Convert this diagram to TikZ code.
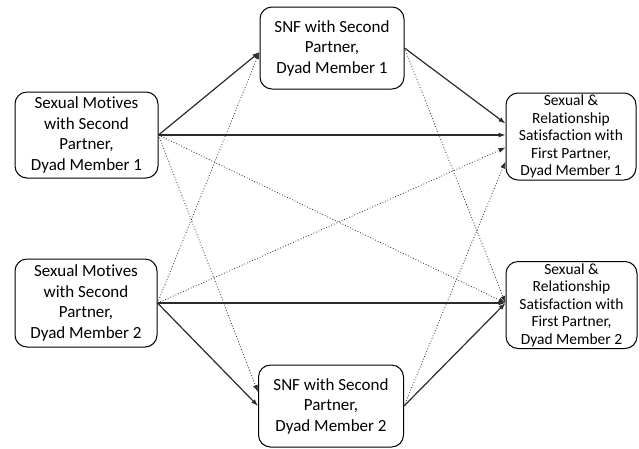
\documentclass[tikz,border=0pt]{standalone}
\usepackage{fontspec}
\setmainfont[Ligatures=NoCommon]{Carlito}
\usetikzlibrary{arrows.meta,positioning,calc}
\definecolor{linegray}{HTML}{2B2B2B}

\tikzset{
  varbox/.style={draw=black, line width=1pt, rounded corners=12pt, fill=white,
    align=center, inner sep=0pt, font=\fontsize{17}{20.5}\selectfont},
  outbox/.style={varbox, font=\fontsize{15.5}{17.5}\selectfont},
  direct/.style={draw=linegray, line width=1.2pt, -{Latex[length=7pt,width=5pt]}},
  cross/.style={draw=linegray, line width=0.8pt, dotted, -{Latex[length=7pt,width=5pt]}}
}

\begin{document}
\begin{tikzpicture}[x=1pt,y=-1pt]
  \useasboundingbox (0,0) rectangle (639,448);

  % predictors
  \node[varbox, minimum width=143pt, minimum height=86pt] (mot1) at (86.5,135)
    {Sexual Motives\\with Second\\Partner,\\Dyad Member 1};
  \node[varbox, minimum width=142pt, minimum height=88pt] (mot2) at (86,303)
    {Sexual Motives\\with Second\\Partner,\\Dyad Member 2};

  % mediators
  \node[varbox, minimum width=144pt, minimum height=82pt] (snf1) at (332,48)
    {SNF with Second\\Partner,\\Dyad Member 1};
  \node[varbox, minimum width=145pt, minimum height=82pt] (snf2) at (331,406)
    {SNF with Second\\Partner,\\Dyad Member 2};

  % outcomes
  \node[outbox, minimum width=130pt, minimum height=87pt] (sat1) at (571,136.5)
    {Sexual \&\\Relationship\\Satisfaction with\\First Partner,\\Dyad Member 1};
  \node[outbox, minimum width=131pt, minimum height=87pt] (sat2) at (571.5,305)
    {Sexual \&\\Relationship\\Satisfaction with\\First Partner,\\Dyad Member 2};

  % entry points
  \coordinate (sat1a) at ([yshift=13pt]sat1.west);
  \coordinate (sat1b) at ([yshift=1.5pt]sat1.west);
  \coordinate (sat1c) at ([yshift=-11pt]sat1.west);
  \coordinate (sat1d) at ([yshift=-25pt]sat1.west);
  \coordinate (sat2a) at ([yshift=2pt]sat2.west);
  \coordinate (snf1a) at ([yshift=-4pt]snf1.west);
  \coordinate (snf2a) at ([yshift=14pt]snf2.west);

  % solid paths
  \draw[direct] (mot1.east) -- (snf1a);
  \draw[direct] (mot1.east) -- (sat1b);
  \draw[direct] (mot2.east) -- (sat2a);
  \draw[direct] (mot2.east) -- (snf2.west);
  \draw[direct] (snf1.east) -- (sat1a);
  \draw[direct] (snf2.east) -- (sat2a);

  % dotted paths
  \draw[cross] (mot1.east) -- (sat2a);
  \draw[cross] (mot1.east) -- (snf2a);
  \draw[cross] (mot2.east) -- (snf1a);
  \draw[cross] (mot2.east) -- (sat1c);
  \draw[cross] (snf1.east) -- (sat2a);
  \draw[cross] (snf2.east) -- (sat1d);
\end{tikzpicture}
\end{document}
